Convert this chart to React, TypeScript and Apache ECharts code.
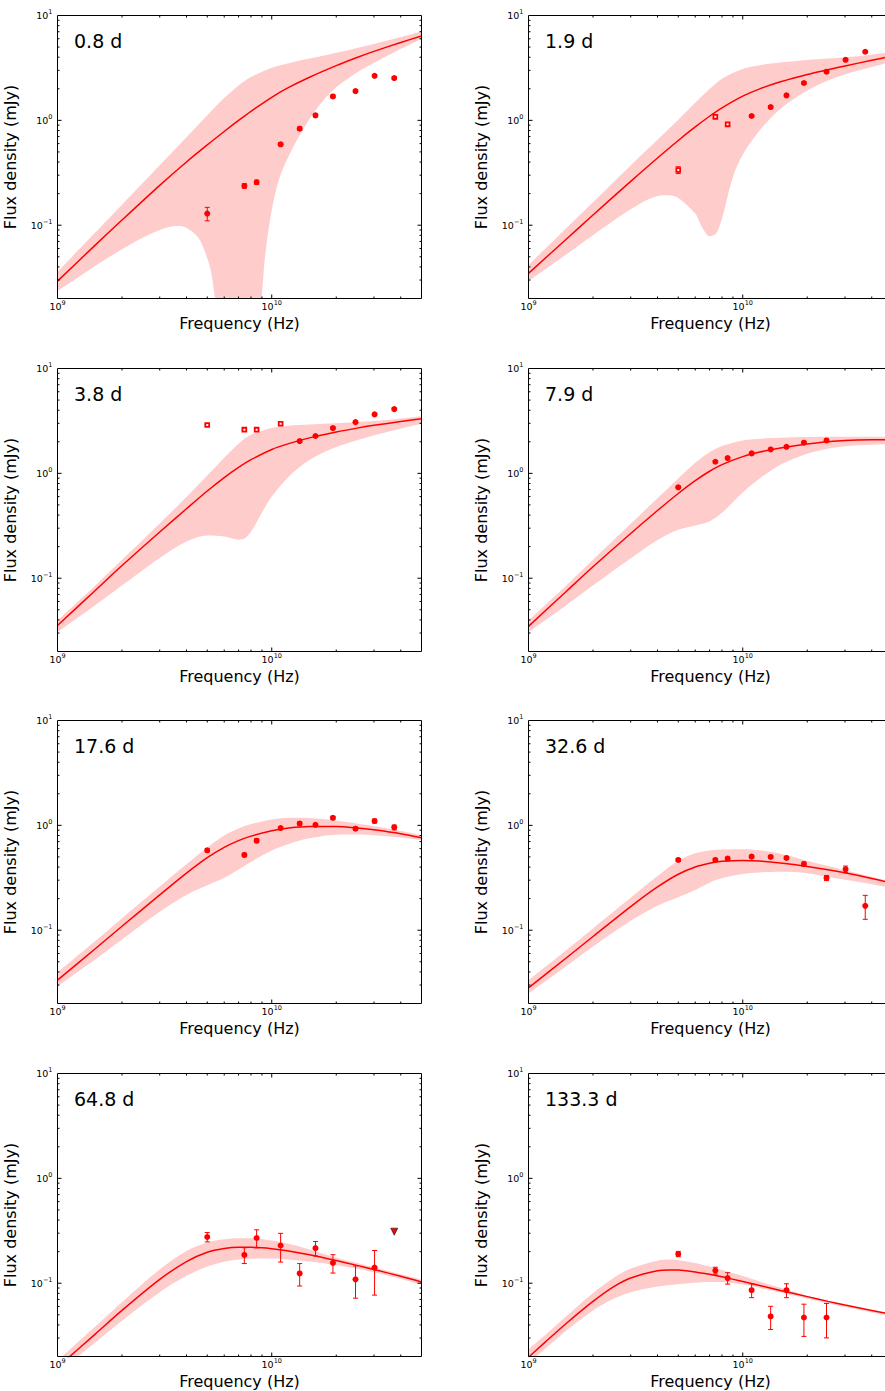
import React, { useEffect, useRef } from "react";
import * as echarts from "echarts";

const FONT = "DejaVu Sans";
const RED = "#ff0000";
const BAND = "#ffcccc";

// Observing frequencies (GHz)
const OBS_FREQ = [5.0, 7.45, 8.5, 11.0, 13.5, 16.0, 19.3, 24.6, 30.2, 37.3];

// Frequency grid (GHz) on which the models are tabulated
const GRID_FREQ = [1, 1.5, 2, 3, 4, 5, 6, 7, 8, 10, 12, 15, 20, 25, 30, 40, 50];

// Tick positions
const X_MINOR_GHZ = [2, 3, 4, 5, 6, 7, 8, 9, 20, 30, 40];
const X_MAJOR_GHZ = [10];
const Y_MINOR = [0.03, 0.04, 0.05, 0.06, 0.07, 0.08, 0.09, 0.2, 0.3, 0.4, 0.5, 0.6, 0.7, 0.8, 0.9, 2, 3, 4, 5, 6, 7, 8, 9];
const Y_MAJOR = [0.1, 1];

// ---------- 0.8 d ----------
const flux_0p8 = [0.129, 0.237, 0.257, 0.591, 0.833, 1.116, 1.69, 1.9, 2.66, 2.53];
const err_0p8 = [0.019, 0.012, 0.012, 0.02, 0.03, 0.04, 0.05, 0.05, 0.07, 0.07];
const model_0p8 = [0.0293, 0.0646, 0.112, 0.24, 0.401, 0.583, 0.783, 0.998, 1.22, 1.66, 2.06, 2.58, 3.33, 3.98, 4.55, 5.53, 6.38];
const hi_0p8 = [0.0359, 0.0851, 0.157, 0.373, 0.689, 1.116, 1.63, 2.15, 2.59, 3.18, 3.51, 3.88, 4.41, 4.9, 5.36, 6.22, 7.03];
const loFreq_0p8 = [1, 1.7, 2.43, 3.0, 3.48, 3.74, 4.2, 4.63, 5.15, 5.44, 6, 7, 8, 8.98, 9.3, 10, 10.9, 12.6, 14.6, 16.8, 19.4, 24.9, 29.8, 37.4, 50];
const lo_0p8 = [0.0235, 0.0481, 0.0738, 0.0902, 0.0977, 0.0982, 0.0885, 0.0714, 0.0398, 0.02, 0.005, 0.002, 0.003, 0.0208, 0.0499, 0.139, 0.288, 0.557, 0.946, 1.42, 1.96, 2.84, 3.5, 4.48, 6.01];

// ---------- 1.9 d ----------
const flux_1p9 = [0.336, 1.08, 0.916, 1.1, 1.34, 1.73, 2.27, 2.91, 3.78, 4.51];
const err_1p9 = [0.025, 0.03, 0.03, 0.03, 0.04, 0.05, 0.06, 0.07, 0.09, 0.1];
const model_1p9 = [0.0347, 0.0735, 0.125, 0.262, 0.438, 0.643, 0.865, 1.094, 1.315, 1.7, 1.995, 2.33, 2.74, 3.04, 3.3, 3.74, 4.1];
const hi_1p9 = [0.0416, 0.0935, 0.166, 0.372, 0.652, 1.014, 1.47, 1.99, 2.5, 3.09, 3.36, 3.56, 3.76, 3.88, 3.99, 4.23, 4.52];
const loFreq_1p9 = [1, 1.5, 2, 3, 4, 4.5, 5, 6, 6.5, 7, 7.5, 8, 9, 10, 12, 15, 20, 25, 30, 40, 50];
const lo_1p9 = [0.0293, 0.0526, 0.0803, 0.142, 0.19, 0.193, 0.182, 0.129, 0.093, 0.0785, 0.083, 0.116, 0.29, 0.47, 0.803, 1.29, 1.93, 2.4, 2.74, 3.22, 3.65];

// ---------- 3.8 d ----------
const flux_3p8 = [2.89, 2.61, 2.61, 2.97, 2.03, 2.27, 2.7, 3.08, 3.65, 4.1];
const err_3p8 = [0.06, 0.06, 0.06, 0.07, 0.05, 0.05, 0.06, 0.07, 0.08, 0.1];
const model_3p8 = [0.0354, 0.0764, 0.132, 0.276, 0.46, 0.679, 0.912, 1.14, 1.35, 1.69, 1.92, 2.18, 2.48, 2.7, 2.87, 3.12, 3.32];
const hi_3p8 = [0.0395, 0.0853, 0.15, 0.333, 0.596, 0.953, 1.41, 1.92, 2.33, 2.71, 2.85, 2.93, 3.01, 3.08, 3.15, 3.33, 3.51];
const loFreq_3p8 = [1, 1.5, 2, 3, 4, 5, 6, 7, 7.5, 8, 9, 10, 12, 15, 20, 25, 30, 40, 50];
const lo_3p8 = [0.0306, 0.0553, 0.0851, 0.156, 0.224, 0.256, 0.25, 0.233, 0.24, 0.277, 0.423, 0.6, 0.929, 1.34, 1.78, 2.07, 2.31, 2.67, 2.97];

// ---------- 7.9 d ----------
const flux_7p9 = [0.736, 1.29, 1.4, 1.55, 1.69, 1.79, 1.96, 2.06];
const err_7p9 = [0.02, 0.03, 0.03, 0.03, 0.03, 0.04, 0.04, 0.05];
const model_7p9 = [0.0347, 0.0748, 0.1285, 0.267, 0.442, 0.643, 0.851, 1.047, 1.213, 1.445, 1.596, 1.746, 1.905, 2.0, 2.056, 2.09, 2.094];
const hi_7p9 = [0.0395, 0.0853, 0.15, 0.33, 0.578, 0.893, 1.26, 1.59, 1.82, 2.06, 2.14, 2.19, 2.22, 2.23, 2.24, 2.24, 2.24];
const lo_7p9 = [0.0306, 0.0553, 0.0851, 0.155, 0.232, 0.29, 0.318, 0.348, 0.42, 0.656, 0.893, 1.21, 1.54, 1.72, 1.81, 1.87, 1.9];

// ---------- 17.6 d ----------
const flux_17p6 = [0.578, 0.522, 0.714, 0.943, 1.04, 1.01, 1.18, 0.93, 1.1, 0.957];
const err_17p6 = [0.02, 0.02, 0.03, 0.03, 0.04, 0.03, 0.04, 0.03, 0.05, 0.05];
const model_17p6 = [0.0334, 0.0665, 0.109, 0.217, 0.35, 0.492, 0.617, 0.715, 0.789, 0.889, 0.944, 0.976, 0.976, 0.946, 0.906, 0.831, 0.76];
const hi_17p6 = [0.0395, 0.0787, 0.13, 0.261, 0.426, 0.615, 0.802, 0.935, 1.028, 1.138, 1.183, 1.178, 1.112, 1.04, 0.979, 0.883, 0.804];
const lo_17p6 = [0.0293, 0.0527, 0.0817, 0.15, 0.217, 0.268, 0.316, 0.379, 0.448, 0.575, 0.665, 0.752, 0.815, 0.818, 0.803, 0.764, 0.721];

// ---------- 32.6 d ----------
const flux_32p6 = [0.468, 0.468, 0.482, 0.503, 0.5, 0.489, 0.428, 0.315, 0.381, 0.171];
const err_32p6 = [0.015, 0.015, 0.015, 0.015, 0.015, 0.015, 0.02, 0.018, 0.028, 0.044];
const model_32p6 = [0.0282, 0.0543, 0.0871, 0.168, 0.2585, 0.342, 0.401, 0.4355, 0.454, 0.463, 0.457, 0.4375, 0.406, 0.378, 0.353, 0.312, 0.28];
const hi_32p6 = [0.0334, 0.0644, 0.104, 0.204, 0.328, 0.459, 0.541, 0.577, 0.588, 0.593, 0.578, 0.535, 0.46, 0.41, 0.374, 0.324, 0.289];
const lo_32p6 = [0.0249, 0.0453, 0.0698, 0.123, 0.171, 0.206, 0.242, 0.284, 0.314, 0.344, 0.356, 0.361, 0.35, 0.321, 0.303, 0.275, 0.252];

// ---------- 64.8 d ----------
const flux_64p8 = [0.276, 0.186, 0.27, 0.229, 0.124, 0.216, 0.156, 0.109, 0.141];
const err_64p8 = [0.028, 0.032, 0.053, 0.07, 0.03, 0.034, 0.031, 0.037, 0.064];
const limit_64p8 = [0.31]; // upper limit at 37 GHz
const model_64p8 = [0.0158, 0.0327, 0.055, 0.1087, 0.1607, 0.197, 0.214, 0.22, 0.22, 0.2133, 0.203, 0.1866, 0.1644, 0.148, 0.135, 0.1164, 0.1028];
const hi_64p8 = [0.0183, 0.0387, 0.0659, 0.1355, 0.203, 0.245, 0.262, 0.268, 0.268, 0.256, 0.238, 0.21, 0.175, 0.156, 0.1416, 0.122, 0.1087];
const lo_64p8 = [0.01396, 0.0272, 0.0438, 0.082, 0.1175, 0.144, 0.16, 0.168, 0.171, 0.172, 0.1686, 0.1607, 0.148, 0.137, 0.127, 0.11, 0.0964];

// ---------- 133.3 d ----------
const flux_133p3 = [0.19, 0.132, 0.112, 0.0858, 0.0482, 0.0858, 0.0471, 0.0471];
const err_133p3 = [0.011, 0.01, 0.014, 0.013, 0.012, 0.013, 0.016, 0.017];
const freq_133p3 = [1, 1.2, 1.5, 2, 2.5, 3, 4, 4.5, 5, 6, 7, 8, 10, 12, 15, 20, 25, 30, 40, 50];
const model_133p3 = [0.0197, 0.0276, 0.0413, 0.067, 0.0927, 0.1122, 0.1315, 0.134, 0.1334, 0.1282, 0.1216, 0.1151, 0.1038, 0.0951, 0.0853, 0.0745, 0.0671, 0.0619, 0.055, 0.0502];
const hi_133p3 = [0.0235, 0.0323, 0.0483, 0.0807, 0.113, 0.138, 0.164, 0.168, 0.166, 0.1556, 0.144, 0.134, 0.117, 0.104, 0.0904, 0.076, 0.0675, 0.0617, 0.0543, 0.0497];
const lo_133p3 = [0.0173, 0.0238, 0.0352, 0.055, 0.0711, 0.0822, 0.0928, 0.0955, 0.0977, 0.1008, 0.1026, 0.1026, 0.097, 0.0902, 0.0816, 0.0714, 0.0643, 0.0592, 0.0526, 0.0482];

type Panel = {
  label: string;
  flux: number[];
  err: number[];
  nOpen: number;
  limit?: number[];
  modelFreq: number[];
  model: number[];
  hiFreq: number[];
  hi: number[];
  loFreq: number[];
  lo: number[];
};

const PANELS: Panel[] = [
  { label: "0.8 d", flux: flux_0p8, err: err_0p8, nOpen: 0, modelFreq: GRID_FREQ, model: model_0p8, hiFreq: GRID_FREQ, hi: hi_0p8, loFreq: loFreq_0p8, lo: lo_0p8 },
  { label: "1.9 d", flux: flux_1p9, err: err_1p9, nOpen: 3, modelFreq: GRID_FREQ, model: model_1p9, hiFreq: GRID_FREQ, hi: hi_1p9, loFreq: loFreq_1p9, lo: lo_1p9 },
  { label: "3.8 d", flux: flux_3p8, err: err_3p8, nOpen: 4, modelFreq: GRID_FREQ, model: model_3p8, hiFreq: GRID_FREQ, hi: hi_3p8, loFreq: loFreq_3p8, lo: lo_3p8 },
  { label: "7.9 d", flux: flux_7p9, err: err_7p9, nOpen: 0, modelFreq: GRID_FREQ, model: model_7p9, hiFreq: GRID_FREQ, hi: hi_7p9, loFreq: GRID_FREQ, lo: lo_7p9 },
  { label: "17.6 d", flux: flux_17p6, err: err_17p6, nOpen: 0, modelFreq: GRID_FREQ, model: model_17p6, hiFreq: GRID_FREQ, hi: hi_17p6, loFreq: GRID_FREQ, lo: lo_17p6 },
  { label: "32.6 d", flux: flux_32p6, err: err_32p6, nOpen: 0, modelFreq: GRID_FREQ, model: model_32p6, hiFreq: GRID_FREQ, hi: hi_32p6, loFreq: GRID_FREQ, lo: lo_32p6 },
  { label: "64.8 d", flux: flux_64p8, err: err_64p8, nOpen: 0, limit: limit_64p8, modelFreq: GRID_FREQ, model: model_64p8, hiFreq: GRID_FREQ, hi: hi_64p8, loFreq: GRID_FREQ, lo: lo_64p8 },
  { label: "133.3 d", flux: flux_133p3, err: err_133p3, nOpen: 0, modelFreq: freq_133p3, model: model_133p3, hiFreq: freq_133p3, hi: hi_133p3, loFreq: freq_133p3, lo: lo_133p3 },
];

// Layout (px)
const COL_LEFT = [57.5, 528.5];
const PLOT_W = 364;
const ROW_TOP = [15.5, 368.5, 720.5, 1073.5];
const PLOT_H = 283;

const hz = (g: number) => g * 1e9;

const powLabel = (v: number) => {
  const e = Math.log10(v);
  const r = Math.round(e);
  if (Math.abs(e - r) > 1e-6) return "";
  const exp = r < 0 ? "\u2212" + -r : String(r);
  return "10{sup|" + exp + "}";
};

const labelStyle = {
  color: "#000",
  fontFamily: FONT,
  fontSize: 9.5,
  lineHeight: 14,
  formatter: powLabel,
  interval: 0,
  rich: {
    sup: { fontSize: 6.5, lineHeight: 7, verticalAlign: "top", color: "#000", fontFamily: FONT },
  },
};

function buildOption() {
  const grids: any[] = [];
  const xAxes: any[] = [];
  const yAxes: any[] = [];
  const series: any[] = [];
  const elements: any[] = [];

  const tickData: number[][] = [];
  X_MINOR_GHZ.forEach((g) => tickData.push([hz(g), 1, 0, 0]));
  X_MAJOR_GHZ.forEach((g) => tickData.push([hz(g), 1, 0, 1]));
  Y_MINOR.forEach((s) => tickData.push([1e10, s, 1, 0]));
  Y_MAJOR.forEach((s) => tickData.push([1e10, s, 1, 1]));

  PANELS.forEach((p, i) => {
    const left = COL_LEFT[i % 2];
    const top = ROW_TOP[Math.floor(i / 2)];
    grids.push({ left, top, width: PLOT_W, height: PLOT_H, show: false });
    xAxes.push({
      type: "log",
      logBase: 10,
      gridIndex: i,
      min: 1e9,
      max: 5e10,
      axisLine: { show: false },
      axisTick: { show: false },
      splitLine: { show: false },
      axisLabel: { ...labelStyle, margin: 1 },
    });
    yAxes.push({
      type: "log",
      logBase: 10,
      gridIndex: i,
      min: 0.02,
      max: 10,
      axisLine: { show: false },
      axisTick: { show: false },
      splitLine: { show: false },
      axisLabel: { ...labelStyle, margin: 5 },
    });

    const ax = { xAxisIndex: i, yAxisIndex: i };

    // uncertainty band: pink below the upper envelope, then white below the lower one
    series.push({
      type: "line",
      ...ax,
      data: p.hiFreq.map((f, k) => [hz(f), p.hi[k]]),
      symbol: "none",
      smooth: 0.3,
      lineStyle: { width: 0, opacity: 0 },
      areaStyle: { color: BAND, opacity: 1, origin: "start" },
      silent: true,
      z: 1,
    });
    series.push({
      type: "line",
      ...ax,
      data: p.loFreq.map((f, k) => [hz(f), p.lo[k]]),
      symbol: "none",
      smooth: 0.3,
      lineStyle: { width: 0, opacity: 0 },
      areaStyle: { color: "#ffffff", opacity: 1, origin: "start" },
      silent: true,
      z: 2,
    });

    // best-fit model
    series.push({
      type: "line",
      ...ax,
      data: p.modelFreq.map((f, k) => [hz(f), p.model[k]]),
      symbol: "none",
      smooth: 0.3,
      lineStyle: { color: RED, width: 1.5 },
      silent: true,
      z: 3,
    });

    // error bars
    series.push({
      type: "custom",
      ...ax,
      data: p.flux.map((s, k) => [hz(OBS_FREQ[k]), s - p.err[k], s + p.err[k]]),
      encode: { x: 0, y: [1, 2] },
      silent: true,
      z: 4,
      renderItem: (_params: any, api: any) => {
        const x = api.value(0);
        const a = api.coord([x, api.value(1)]);
        const b = api.coord([x, api.value(2)]);
        const w = 2.5;
        const st = { stroke: RED, lineWidth: 1, fill: "none" };
        return {
          type: "group",
          children: [
            { type: "line", shape: { x1: a[0], y1: a[1], x2: b[0], y2: b[1] }, style: st },
            { type: "line", shape: { x1: a[0] - w, y1: a[1], x2: a[0] + w, y2: a[1] }, style: st },
            { type: "line", shape: { x1: b[0] - w, y1: b[1], x2: b[0] + w, y2: b[1] }, style: st },
          ],
        };
      },
    });

    // filled detections
    series.push({
      type: "scatter",
      ...ax,
      data: p.flux.map((s, k) => [hz(OBS_FREQ[k]), s]).slice(p.nOpen),
      symbol: "circle",
      symbolSize: 6,
      itemStyle: { color: RED, opacity: 1 },
      silent: true,
      z: 5,
    });

    // open-symbol detections
    if (p.nOpen > 0) {
      series.push({
        type: "scatter",
        ...ax,
        data: p.flux.slice(0, p.nOpen).map((s, k) => [hz(OBS_FREQ[k]), s]),
        symbol: "rect",
        symbolSize: 3.8,
        itemStyle: { color: "#ffffff", borderColor: RED, borderWidth: 1.8, opacity: 1 },
        silent: true,
        z: 6,
      });
    }

    // upper limits
    if (p.limit) {
      const off = p.flux.length;
      series.push({
        type: "scatter",
        ...ax,
        data: p.limit.map((s, k) => [hz(OBS_FREQ[off + k]), s]),
        symbol: "triangle",
        symbolRotate: 180,
        symbolSize: 7,
        itemStyle: { color: RED, borderColor: "#222", borderWidth: 0.7, opacity: 1 },
        silent: true,
        z: 6,
      });
    }

    // inward ticks on all four sides
    series.push({
      type: "custom",
      ...ax,
      data: tickData,
      encode: { x: 0, y: 1 },
      silent: true,
      z: 8,
      renderItem: (params: any, api: any) => {
        const cs = params.coordSys;
        const len = api.value(3) ? 4 : 2;
        const st = { stroke: "#000", lineWidth: 1, fill: "none" };
        if (api.value(2) === 0) {
          const px = api.coord([api.value(0), 1])[0];
          const yb = cs.y + cs.height;
          return {
            type: "group",
            children: [
              { type: "line", shape: { x1: px, y1: yb, x2: px, y2: yb - len }, style: st },
              { type: "line", shape: { x1: px, y1: cs.y, x2: px, y2: cs.y + len }, style: st },
            ],
          };
        }
        const py = api.coord([1e10, api.value(1)])[1];
        const xr = cs.x + cs.width;
        return {
          type: "group",
          children: [
            { type: "line", shape: { x1: cs.x, y1: py, x2: cs.x + len, y2: py }, style: st },
            { type: "line", shape: { x1: xr, y1: py, x2: xr - len, y2: py }, style: st },
          ],
        };
      },
    });

    // frame
    elements.push({
      type: "rect",
      shape: { x: left, y: top, width: PLOT_W, height: PLOT_H },
      style: { fill: "none", stroke: "#000", lineWidth: 1 },
      silent: true,
      z: 100,
    });
    // epoch label
    elements.push({
      type: "text",
      x: left + 16.5,
      y: top + 25,
      style: { text: p.label, fontSize: 19, fontFamily: FONT, fill: "#000", align: "left", verticalAlign: "middle" },
      silent: true,
      z: 100,
    });
    // axis titles
    elements.push({
      type: "text",
      x: left + PLOT_W / 2,
      y: top + PLOT_H + 24.5,
      style: { text: "Frequency (Hz)", fontSize: 16, fontFamily: FONT, fill: "#000", align: "center", verticalAlign: "middle" },
      silent: true,
      z: 100,
    });
    elements.push({
      type: "text",
      x: left - 47,
      y: top + PLOT_H / 2,
      rotation: Math.PI / 2,
      style: { text: "Flux density (mJy)", fontSize: 16, fontFamily: FONT, fill: "#000", align: "center", verticalAlign: "middle" },
      silent: true,
      z: 100,
    });
  });

  return {
    animation: false,
    backgroundColor: "#ffffff",
    grid: grids,
    xAxis: xAxes,
    yAxis: yAxes,
    series,
    graphic: { elements },
  };
}

export default function App() {
  const ref = useRef<HTMLDivElement>(null);
  useEffect(() => {
    if (!ref.current) return;
    const chart = echarts.init(ref.current, undefined, { renderer: "svg" });
    chart.setOption(buildOption() as any);
    return () => chart.dispose();
  }, []);
  return (
    <div style={{ position: "absolute", left: 0, top: 0, width: 885, height: 1391, overflow: "hidden", background: "#fff" }}>
      <div ref={ref} style={{ width: 900, height: 1391 }} />
    </div>
  );
}
